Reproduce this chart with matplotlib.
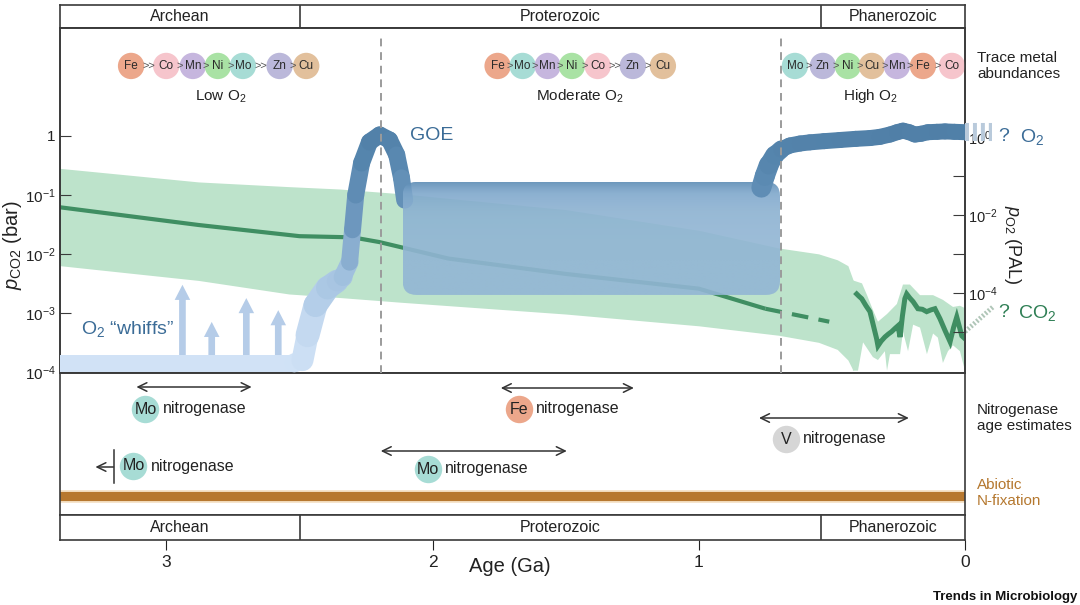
import matplotlib
matplotlib.use('Agg')
import matplotlib.pyplot as plt
import numpy as np
from matplotlib.collections import LineCollection
from matplotlib.colors import LinearSegmentedColormap, Normalize
from matplotlib.patches import FancyBboxPatch
from matplotlib.transforms import IdentityTransform, blended_transform_factory
from matplotlib.ticker import NullLocator

plt.rcParams['font.family'] = ['Liberation Sans', 'DejaVu Sans']
plt.rcParams['mathtext.fontset'] = 'custom'
plt.rcParams['mathtext.rm'] = 'Liberation Sans'
plt.rcParams['mathtext.it'] = 'Liberation Sans:italic'
plt.rcParams['axes.edgecolor'] = '#3a3a3a'
plt.rcParams['axes.linewidth'] = 1.2

# ---------------- data ----------------
eon_names = ['Archean', 'Proterozoic', 'Phanerozoic']
eon_bounds = [2.5, 0.54]
eon_label_x = [2.95, 1.52, 0.27]

# CO2 envelope and median (log10 bar)
co2_env_age = [3.45, 3.4, 2.88, 2.54, 2.35, 2.12, 1.5, 1.0, 0.7, 0.55, 0.48, 0.44, 0.42]
co2_env_hi = [-0.54, -0.55, -0.78, -0.86, -0.9, -0.98, -1.25, -1.6, -1.9, -2.0, -2.1, -2.2, -2.45]
co2_env_lo = [-2.2, -2.2, -2.45, -2.68, -2.74, -2.82, -3.02, -3.22, -3.38, -3.5, -3.62, -3.8, -3.98]
co2_age = [3.45, 3.4, 2.88, 2.5, 2.3, 2.2, 1.94, 1.5, 1.0, 0.75]
co2_med = [-1.2, -1.21, -1.51, -1.70, -1.72, -1.80, -2.08, -2.34, -2.59, -2.93]
co2_dash_age = [0.75, 0.51]
co2_dash = [-2.93, -3.15]

# Phanerozoic CO2 record
phan_age = [0.407, 0.398, 0.388, 0.372, 0.357, 0.345, 0.332, 0.327, 0.315, 0.301, 0.288, 0.276,
            0.262, 0.252, 0.244, 0.235, 0.226, 0.219, 0.207, 0.195, 0.177, 0.160, 0.144, 0.128,
            0.113, 0.094, 0.075, 0.056, 0.043, 0.031, 0.012, 0.0]
phan_co2 = [-2.68, -2.72, -2.76, -2.88, -2.98, -3.20, -3.44, -3.56, -3.48, -3.41, -3.36, -3.32,
            -3.26, -3.22, -3.41, -3.05, -2.76, -2.68, -2.75, -2.81, -2.93, -2.94, -2.98, -2.95,
            -2.93, -3.10, -3.30, -3.49, -3.25, -3.07, -3.39, -3.44]
phan_hi_age = [0.421, 0.387, 0.368, 0.346, 0.327, 0.293, 0.256, 0.233, 0.207, 0.169,
               0.120, 0.083, 0.045, 0.019, 0.0]
phan_hi = [-2.45, -2.5, -2.7, -2.95, -3.15, -3.02, -2.85, -2.52, -2.52, -2.7,
           -2.7, -2.78, -2.9, -2.88, -2.92]
phan_lo_age = [0.0, 0.019, 0.045, 0.064, 0.083, 0.102, 0.120, 0.143, 0.169, 0.195, 0.214,
               0.233, 0.244, 0.282, 0.293, 0.301, 0.327, 0.346, 0.383, 0.402, 0.421]
phan_lo = [-3.98, -3.65, -3.55, -3.65, -3.85, -3.42, -3.35, -3.7, -3.25, -3.2, -3.65,
           -3.32, -3.7, -3.7, -3.98, -3.65, -3.8, -3.75, -3.5, -3.98, -3.98]
co2_future_age = [0.0, -0.105]
co2_future = [-3.32, -2.9]

# O2 (log10 PAL)
o2_early_age = [3.45, 2.52, 2.489, 2.470, 2.440, 2.395, 2.360, 2.338, 2.312, 2.301, 2.289, 2.267,
                2.237, 2.199, 2.162, 2.135, 2.117, 2.105]
o2_early = [-5.79, -5.79, -5.72, -5.08, -4.31, -3.87, -3.70, -3.59, -3.21, -2.38, -1.49, -0.67,
            -0.13, 0.05, -0.08, -0.46, -1.05, -1.62]
o2_early_w = [17, 19, 22, 24, 24, 23, 20, 18, 17, 17, 17, 17, 17, 17, 17, 17, 17]
o2_box_age = [2.113, 0.695]
o2_box = [-4.05, -1.154]
o2_late_age = [0.765, 0.752, 0.737, 0.715, 0.69, 0.658, 0.62, 0.583, 0.530, 0.470, 0.410, 0.357,
               0.320, 0.282, 0.255, 0.233, 0.210, 0.188, 0.165, 0.139, 0.105, 0.075, 0.040, 0.0]
o2_late = [-1.3, -1.0, -0.72, -0.47, -0.32, -0.22, -0.17, -0.14, -0.11, -0.08, -0.05, -0.03,
           0.0, 0.06, 0.12, 0.16, 0.12, 0.06, 0.08, 0.12, 0.13, 0.14, 0.13, 0.12]
o2_future_age = [0.0, -0.1]
o2_future = [0.12, 0.12]
whiff_age = [2.94, 2.83, 2.70, 2.58]
whiff_top = [-3.79, -4.74, -4.13, -4.44]
goe_age = 2.195
neo_age = 0.69

# trace metal abundance rows
metal_colors = {'Fe': '#eca78b', 'Co': '#f6c5cc', 'Mn': '#c6b6de', 'Ni': '#a9e2a4',
                'Mo': '#a7dcd5', 'Zn': '#bbb8da', 'Cu': '#e2c09c'}
low_metals = ['Fe', 'Co', 'Mn', 'Ni', 'Mo', 'Zn', 'Cu']
low_seps = ['>>', '>', '>', '>', '>>', '>']
low_x = [3.133, 3.001, 2.901, 2.807, 2.713, 2.575, 2.475]
mod_metals = ['Fe', 'Mo', 'Mn', 'Ni', 'Co', 'Zn', 'Cu']
mod_seps = ['>', '>', '>', '>', '>>', '>']
mod_x = [1.756, 1.662, 1.568, 1.477, 1.380, 1.248, 1.135]
high_metals = ['Mo', 'Zn', 'Ni', 'Cu', 'Mn', 'Fe', 'Co']
high_seps = ['>', '>', '>', '>', '>', '>']
high_x = [0.639, 0.534, 0.440, 0.350, 0.256, 0.158, 0.049]
row_titles = ['Low O$_2$', 'Moderate O$_2$', 'High O$_2$']
row_title_x = [2.797, 1.447, 0.357]

# nitrogenase age estimates
nif_metal = ['Mo', 'Fe', 'V', 'Mo', 'Mo']
nif_start = [3.113, 1.744, 0.774, 2.195, 3.199]
nif_end = [2.680, 1.244, 0.211, 1.496, 3.267]
nif_label_age = [3.079, 1.677, 0.673, 2.019, 3.124]
nif_kind = ['range', 'range', 'range', 'range', 'older']
nif_colors = {'Mo': '#a7dcd5', 'Fe': '#eca78b', 'V': '#d6d6d6'}

# ---------------- layout ----------------
W, H = 1080, 605
fig = plt.figure(figsize=(10.8, 6.05), dpi=100)


def px_box(x0, y0, x1, y1):
    return [x0 / W, 1 - y1 / H, (x1 - x0) / W, (y1 - y0) / H]


ax_top = fig.add_axes(px_box(60, 5, 965, 28))
ax = fig.add_axes(px_box(60, 28, 965, 373))
ax_n = fig.add_axes(px_box(60, 373, 965, 515))
ax_bot = fig.add_axes(px_box(60, 515, 965, 540))

# eon bands
for a in (ax_top, ax_bot):
    a.set_xlim(3.4, 0)
    a.set_ylim(0, 1)
    a.set_yticks([])
    for b in eon_bounds:
        a.axvline(b, color='#3a3a3a', lw=1.2)
    for name, xc in zip(eon_names, eon_label_x):
        a.text(xc, 0.48, name, ha='center', va='center', fontsize=11.5, color='#222')
ax_top.set_xticks([])
ax_bot.set_xticks([3, 2, 1, 0])
ax_bot.set_xticklabels(['3', '2', '1', '0'])
ax_bot.tick_params(axis='x', direction='out', length=7, labelsize=12.5, pad=4, colors='#222')
ax_bot.text(0.497, -1.08, 'Age (Ga)', transform=ax_bot.transAxes, ha='center', va='center',
            fontsize=14.5, color='#222')

# ---------------- main panel: CO2 ----------------
ax.set_xlim(3.4, 0)
ax.set_yscale('log')
ax.set_ylim(10 ** -4.02, 10 ** 1.83)
ax.set_xticks([])
ax.set_yticks([1e-4, 1e-3, 1e-2, 1e-1, 1])
ax.set_yticklabels(['10$^{-4}$', '10$^{-3}$', '10$^{-2}$', '10$^{-1}$', '1'])
ax.yaxis.set_minor_locator(NullLocator())
ax.tick_params(axis='y', direction='in', length=8, labelsize=11, pad=3,
               colors='#3a3a3a', labelcolor='#222')

green_fill = '#bde3cb'
ax.fill_between(co2_env_age, 10 ** np.array(co2_env_hi), 10 ** np.array(co2_env_lo),
                color=green_fill, lw=0, zorder=1)
ax.fill(np.concatenate([phan_hi_age, phan_lo_age]),
        10 ** np.concatenate([phan_hi, phan_lo]), color=green_fill, lw=0, zorder=1)
ax.plot(co2_age, 10 ** np.array(co2_med), color='#3f8e62', lw=3, zorder=2,
        solid_capstyle='butt')
ax.plot(co2_dash_age, 10 ** np.array(co2_dash), color='#3f8e62', lw=3, zorder=2,
        dashes=(4, 2.5))
ax.plot(phan_age, 10 ** np.array(phan_co2), color='#3f8e62', lw=3.6, zorder=3,
        solid_joinstyle='miter')
ax.plot(co2_future_age, 10 ** np.array(co2_future), color='#b0c6b8', lw=3.5,
        dashes=(0.4, 0.4), clip_on=False)

# trace metal rows
xtr = ax.get_xaxis_transform()
row_y = 0.89
for metals, xs, seps in [(low_metals, low_x, low_seps), (mod_metals, mod_x, mod_seps),
                         (high_metals, high_x, high_seps)]:
    ax.scatter(xs, [row_y] * len(xs), s=360, c=[metal_colors[m] for m in metals],
               transform=xtr, lw=0, zorder=5, clip_on=False)
    for m, x in zip(metals, xs):
        ax.text(x, row_y, m, transform=xtr, ha='center', va='center', fontsize=8.5,
                color='#2a2a2a', zorder=6)
    for s, x0, x1 in zip(seps, xs[:-1], xs[1:]):
        ax.text((x0 + x1) / 2, row_y, s, transform=xtr, ha='center', va='center',
                fontsize=8, color='#555', zorder=6)
for t, x in zip(row_titles, row_title_x):
    ax.text(x, 0.802, t, transform=xtr, ha='center', va='center', fontsize=11, color='#222')

# ---------------- main panel: O2 (right axis) ----------------
ax_r = ax.twinx()
ax_r.set_xlim(3.4, 0)
ax_r.set_yscale('log')
ax_r.set_ylim(10 ** -6.05, 10 ** 2.79)
ax_r.set_yticks([10.0 ** k for k in [0, -1, -2, -3, -4, -5]])
ax_r.set_yticklabels(['10$^{0}$', '', '10$^{-2}$', '', '10$^{-4}$', ''])
ax_r.yaxis.set_minor_locator(NullLocator())
ax_r.tick_params(axis='y', direction='in', length=9, labelsize=10.5, pad=2,
                 colors='#3a3a3a', labelcolor='#222')

cmap = LinearSegmentedColormap.from_list(
    'o2', [(0.0, '#d3e4f7'), (0.22, '#c3d8f0'), (0.4, '#a3c2e0'), (0.62, '#7099c0'),
           (0.85, '#5787af'), (1.0, '#4f7ea6')])
norm = Normalize(-6.0, 0.3)

# whiff arrows
for a_, top in zip(whiff_age, whiff_top):
    ax_r.annotate('', xy=(a_, 10 ** top), xytext=(a_, 10 ** -5.79),
                  arrowprops=dict(arrowstyle='simple,head_length=0.68,head_width=0.7,tail_width=0.3',
                                  mutation_scale=16, color='#b5cce8', lw=0,
                                  shrinkA=0, shrinkB=0), zorder=2)


def o2_segments(ages, vals):
    pts = np.column_stack([ages, 10 ** np.array(vals)])
    segs = np.stack([pts[:-1], pts[1:]], axis=1)
    mids = (np.array(vals[:-1]) + np.array(vals[1:])) / 2
    return segs, cmap(norm(mids))


segs, cols = o2_segments(o2_early_age, o2_early)
lc = LineCollection(segs, colors=cols, linewidths=np.array(o2_early_w) * 0.72,
                    capstyle='round', joinstyle='round', zorder=3)
ax_r.add_collection(lc)

# Proterozoic plateau box with vertical gradient
fig.canvas.draw()
(bx0, by0) = ax_r.transData.transform((o2_box_age[0], 10 ** o2_box[0]))
(bx1, by1) = ax_r.transData.transform((o2_box_age[1], 10 ** o2_box[1]))
box_patch = FancyBboxPatch((bx0, by0), bx1 - bx0, by1 - by0,
                           boxstyle='round,pad=0,rounding_size=14',
                           transform=IdentityTransform(), facecolor='none', edgecolor='none')
grad = np.linspace(0, 1, 64).reshape(-1, 1)
box_cmap = LinearSegmentedColormap.from_list('box', ['#5a8ab3', '#7ea7cb', '#92b6d4'])
im = ax_r.imshow(grad, cmap=box_cmap, aspect='auto', origin='upper', alpha=0.9,
                 extent=(o2_box_age[0], o2_box_age[1], 10 ** o2_box[0], 10 ** o2_box[1]),
                 zorder=4, interpolation='bilinear')
im.set_clip_path(box_patch)
ax_r.set_xlim(3.4, 0)
ax_r.set_ylim(10 ** -6.05, 10 ** 2.79)

segs, cols = o2_segments(o2_late_age, o2_late)
late_w = [20, 20, 19, 18] + [16] * (len(segs) - 4)
lc2 = LineCollection(segs, colors=cols, linewidths=np.array(late_w) * 0.72, capstyle='round',
                     joinstyle='round', zorder=5)
ax_r.add_collection(lc2)
ax_r.plot(o2_future_age, 10 ** np.array(o2_future), color='#b9cadb', lw=13,
          dashes=(0.22, 0.22), solid_capstyle='butt', clip_on=False, zorder=5)

for a_ in (goe_age, neo_age):
    ax_r.axvline(a_, ymin=0, ymax=0.98, color='#9b9b9b', lw=1.4, dashes=(4, 3), zorder=6)

blue_txt = '#3b6c97'
green_txt = '#2f7f55'
ax.text(2.004, 1.0, 'GOE', ha='center', va='center', fontsize=14, color=blue_txt, zorder=7)
ax.text(3.145, 10 ** -3.27, 'O$_2$ \u201cwhiffs\u201d', ha='center', va='center',
        fontsize=14, color=blue_txt, zorder=7)

rtr = blended_transform_factory(ax_r.transAxes, ax_r.transData)
ax_r.text(1.037, 1.0, '?', transform=rtr, ha='left', va='center', fontsize=14, color=blue_txt)
ax_r.text(1.061, 1.0, 'O$_2$', transform=rtr, ha='left', va='center', fontsize=14, color=blue_txt)
ltr = blended_transform_factory(ax.transAxes, ax.transData)
ax.text(1.037, 1e-3, '?', transform=ltr, ha='left', va='center', fontsize=14, color=green_txt)
ax.text(1.059, 1e-3, 'CO$_2$', transform=ltr, ha='left', va='center', fontsize=14, color=green_txt)

fig.text(13 / W, 1 - 245 / H, r'$p_{\mathrm{CO2}}$ (bar)', rotation=90, ha='center',
         va='center', fontsize=14.5, color='#222')
fig.text(1012 / W, 1 - 245 / H, r'$p_{\mathrm{O2}}$ (PAL)', rotation=-90, ha='center',
         va='center', fontsize=13, color='#222')
fig.text(977 / W, 1 - 66 / H, 'Trace metal\nabundances', ha='left', va='center',
         fontsize=11, color='#222', linespacing=1.1)

# ---------------- nitrogenase panel ----------------
ax_n.set_xlim(3.4, 0)
ax_n.set_ylim(142, 0)
ax_n.set_xticks([])
ax_n.set_yticks([])
arrow_row = [14, 15, 45, 78, 94]
label_row = [36, 36, 66, 96, 93]
for m, a0, a1, lab_a, kind, ya, yl in zip(nif_metal, nif_start, nif_end, nif_label_age,
                                          nif_kind, arrow_row, label_row):
    if kind == 'range':
        ax_n.annotate('', xy=(a1, ya), xytext=(a0, ya),
                      arrowprops=dict(arrowstyle='<->,head_length=0.45,head_width=0.22',
                                      color='#333', lw=1.1, shrinkA=0, shrinkB=0,
                                      mutation_scale=14))
    else:
        ax_n.plot([a0, a0], [yl - 16, yl + 17], color='#333', lw=1.1)
        ax_n.annotate('', xy=(a1, yl + 1), xytext=(a0, yl + 1),
                      arrowprops=dict(arrowstyle='->,head_length=0.45,head_width=0.22',
                                      color='#333', lw=1.1, shrinkA=0, shrinkB=0,
                                      mutation_scale=14))
    ax_n.scatter([lab_a], [yl], s=390, color=nif_colors[m], lw=0, zorder=3)
    ax_n.text(lab_a, yl, m, ha='center', va='center', fontsize=11.5, color='#222', zorder=4)
    ax_n.text(lab_a - 0.064, yl, 'nitrogenase', ha='left', va='center', fontsize=11.5,
              color='#222', zorder=4)

ax_n.axhline(123, color='#f2dcbd', lw=9)
ax_n.axhline(123, color='#b7782f', lw=6.5)
fig.text(977 / W, 1 - 418 / H, 'Nitrogenase\nage estimates', ha='left', va='center',
         fontsize=11, color='#222', linespacing=1.15)
fig.text(977 / W, 1 - 493 / H, 'Abiotic\nN-fixation', ha='left', va='center',
         fontsize=11, color='#b5782f', linespacing=1.15)

fig.text(1077 / W, 1 - 597 / H, 'Trends in Microbiology', ha='right', va='center',
         fontsize=9.5, fontweight='bold', color='#111')

fig.savefig('out.png', dpi=100)
